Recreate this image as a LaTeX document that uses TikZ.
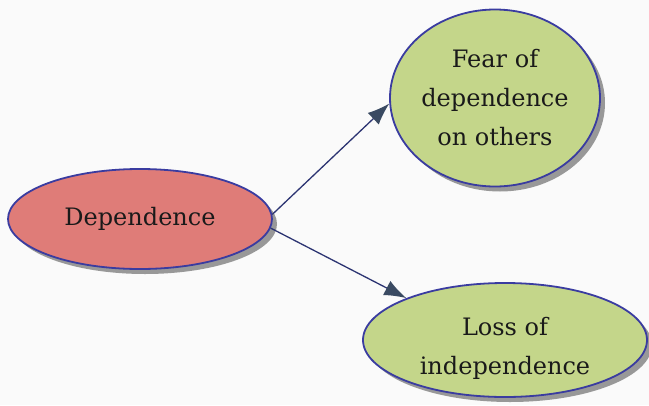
\documentclass[tikz,border=0pt]{standalone}
\usepackage{fontspec}
\setmainfont{DejaVu Serif}
\usetikzlibrary{shapes.geometric,arrows.meta,shadows}
\definecolor{paper}{HTML}{FAFAFA}
\definecolor{rimblue}{HTML}{3A3CA0}
\definecolor{redfill}{HTML}{DF7C78}
\definecolor{greenfill}{HTML}{C4D68A}
\definecolor{linkblue}{HTML}{2C3472}
\definecolor{tipgrey}{HTML}{3A4A62}
\definecolor{inkdark}{HTML}{1A1A1A}
\begin{document}
\begin{tikzpicture}[x=1pt,y=-1pt,
  bubble/.style={ellipse, draw=rimblue, line width=1.8pt, inner sep=0pt,
    align=center, text=inkdark, font=\fontsize{24}{39}\selectfont,
    drop shadow={shadow xshift=5pt, shadow yshift=-5pt, fill=black!50, opacity=0.8}},
  link/.style={draw=linkblue, line width=1.3pt,
    -{Latex[length=22pt,width=16pt,color=tipgrey]}}]
  \useasboundingbox[fill=paper] (0,0) rectangle (649,405);
  % concept bubbles
  \node[bubble, fill=redfill, minimum width=264pt, minimum height=100pt]
    (dep) at (140,219) {Dependence};
  \node[bubble, fill=greenfill, minimum width=210pt, minimum height=177pt]
    (fear) at (495,98) {Fear of\\dependence\\on others};
  % taller text box so the two lines sit a little below the middle
  \node[bubble, fill=greenfill, minimum width=284pt, minimum height=114pt,
    text height=74pt]
    (loss) at (505,340) {Loss of\\independence};
  % links
  \draw[link] (dep.2) -- (fear.183);
  \draw[link] (dep.-4) -- (loss.157);
\end{tikzpicture}
\end{document}
